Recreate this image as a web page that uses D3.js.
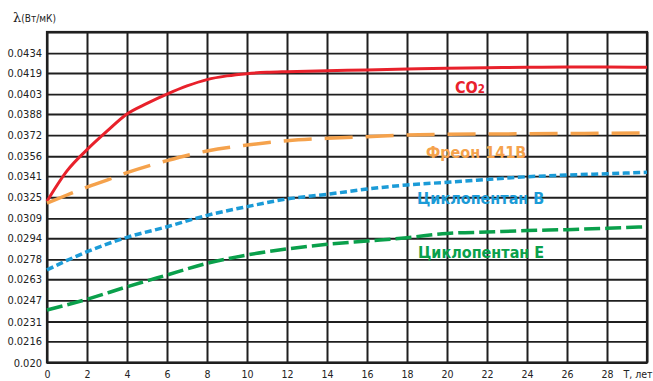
<!DOCTYPE html>
<html><head><meta charset="utf-8">
<script src="https://cdn.jsdelivr.net/npm/d3@7"></script>
<style>
html,body{margin:0;padding:0;background:#fff;overflow:hidden}
svg{display:block}
text{font-family:"DejaVu Sans Condensed","DejaVu Sans",sans-serif}
</style></head>
<body>
<svg id="c" width="653" height="381"></svg>
<script>
// ---- data ----
const xTicks = [0,2,4,6,8,10,12,14,16,18,20,22,24,26,28,30];
const xTickLabels = ["0","2","4","6","8","10","12","14","16","18","20","22","24","26","28","T, лет"];
const yTicks = [0.020,0.0216,0.0231,0.0247,0.0263,0.0278,0.0294,0.0309,0.0325,0.0341,0.0356,0.0372,0.0388,0.0403,0.0419,0.0434,0.045];
const yTickLabels = ["0.020","0.0216","0.0231","0.0247","0.0263","0.0278","0.0294","0.0309","0.0325","0.0341","0.0356","0.0372","0.0388","0.0403","0.0419","0.0434",""];

const co2X   = [0,1,2,3,4,5,6,7,8,9,10,11,12,14,16,18,20,22,24,26,28,30];
const co2Y   = [0.0322,0.0345,0.0361,0.0375,0.0388,0.0396,0.0403,0.04092,0.0414,0.04168,0.04185,0.04195,0.0420,0.04207,0.04213,0.0422,0.04226,0.0423,0.04233,0.04235,0.04235,0.04233];

const freonX = [0,1,2,3,4,6,8,10,12,14,16,18,20,24,30];
const freonY = [0.03205,0.03267,0.03327,0.0338,0.03436,0.03527,0.0360,0.03645,0.03678,0.03696,0.03708,0.03721,0.03726,0.0373,0.03736];

const cpBX   = [0,2,4,6,8,10,12,14,16,18,20,24,26,28,30];
const cpBY   = [0.0270,0.02838,0.02947,0.03027,0.03113,0.03179,0.03237,0.03272,0.03312,0.03343,0.03363,0.03405,0.03418,0.03428,0.03439];

const cpEX   = [0,2,4,6,8,10,12,14,16,18,20,22,24,26,28,30];
const cpEY   = [0.02397,0.02478,0.02573,0.02662,0.0275,0.02813,0.02859,0.02894,0.02919,0.02944,0.02976,0.02987,0.02998,0.03005,0.03015,0.03027];

const seriesNames = ["CO", "Фреон 141B", "Циклопентан B", "Циклопентан E"];
const seriesColors = ["#e8212b", "#f5a24c", "#1b9bd7", "#0aa04b"];

// ---- layout ----
const L = 47, R = 647, T = 32, B = 362.5;
const x = d3.scaleLinear().domain([0,30]).range([L,R]);
const y = d3.scaleLinear().domain([0.020,0.045]).range([B,T]);

const svg = d3.select("#c");

// grid via axes
const gx = svg.append("g").attr("transform",`translate(0,${B})`)
  .call(d3.axisBottom(x).tickValues(xTicks).tickSize(-(B-T)).tickPadding(0)
        .tickFormat((d,i)=>xTickLabels[i]));
gx.select(".domain").remove();
gx.selectAll(".tick line").attr("stroke","#1f1f1f").attr("stroke-width",2);
gx.selectAll(".tick text").attr("font-size",10.5).attr("fill","#222")
  .attr("dy",null).attr("y",15.5);
// last label ("T, лет") kept inside the picture
gx.selectAll(".tick").filter((d,i)=>i===xTicks.length-1).select("text")
  .attr("text-anchor","end").attr("x",5);

const gy = svg.append("g").attr("transform",`translate(${L},0)`)
  .call(d3.axisLeft(y).tickValues(yTicks).tickSize(-(R-L)).tickPadding(5)
        .tickFormat((d,i)=>yTickLabels[i]));
gy.select(".domain").remove();
gy.selectAll(".tick line").attr("stroke","#1f1f1f").attr("stroke-width",1.9);
gy.selectAll(".tick text").attr("font-size",11).attr("fill","#222");

// frame
svg.append("rect").attr("x",L).attr("y",T).attr("width",R-L).attr("height",B-T)
  .attr("fill","none").attr("stroke","#1f1f1f").attr("stroke-width",2.2);

// axis title
const yt = svg.append("text").attr("x",13).attr("y",22).attr("fill","#222");
yt.append("tspan").attr("font-family","DejaVu Serif, serif").attr("font-size",13).text("λ");
yt.append("tspan").attr("font-size",10).text("(Вт/мК)");

// lines
const line = d3.line().x(d=>x(d[0])).y(d=>y(d[1])).curve(d3.curveMonotoneX);
const series = [
  {xs:co2X, ys:co2Y, dash:null, w:3},
  {xs:freonX, ys:freonY, dash:"28,13", w:3.5},
  {xs:cpBX, ys:cpBY, dash:"7,3.5", w:3.5},
  {xs:cpEX, ys:cpEY, dash:"16,5", w:3.5}
];
series.forEach((s,i)=>{
  svg.append("path").datum(s.xs.map((v,j)=>[v,s.ys[j]]))
    .attr("d",line).attr("fill","none").attr("stroke",seriesColors[i])
    .attr("stroke-width",s.w).attr("stroke-dasharray",s.dash);
});

// labels
const lab = [
  {x:455, y:93},
  {x:426, y:158},
  {x:417, y:203.5},
  {x:418, y:257.5}
];
lab.forEach((p,i)=>{
  const t = svg.append("text").attr("x",p.x).attr("y",p.y)
    .attr("fill",seriesColors[i]).attr("font-weight","bold").attr("font-size",16)
    .text(seriesNames[i]);
  if(i===0) t.append("tspan").attr("font-size",11.5).text("2");
});
</script>
</body></html>
